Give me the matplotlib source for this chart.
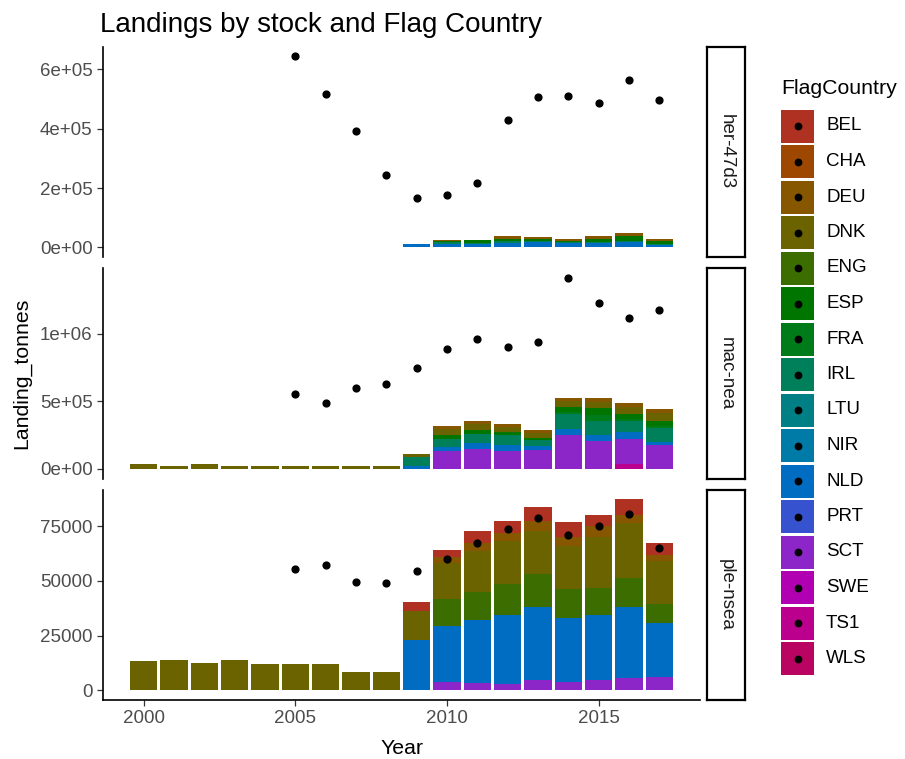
import numpy as np
import matplotlib
matplotlib.use('Agg')
import matplotlib.pyplot as plt
import matplotlib.ticker as mticker
from matplotlib.patches import Rectangle

plt.rcParams['font.family'] = ['Liberation Sans', 'DejaVu Sans']

# ── Data (tonnes) ───────────────────────────────────────────────────

COUNTRIES = ['BEL', 'CHA', 'DEU', 'DNK', 'ENG', 'ESP', 'FRA', 'IRL',
             'LTU', 'NIR', 'NLD', 'PRT', 'SCT', 'SWE', 'TS1', 'WLS']

YEARS = np.arange(2000, 2018)
POINT_YEARS = np.arange(2005, 2018)

# her-47d3: landings only from 2009
HER = {
    'DEU': [0]*9 + [0, 2000, 2500, 8000, 7000, 6500, 9000, 11000, 6000],
    'ESP': [0]*9 + [0, 5000, 8500, 10000, 7000, 3500, 12000, 15000, 10000],
    'IRL': [0]*9 + [0, 7000, 5000, 5000, 3000, 3000, 3500, 5000, 3500],
    'NLD': [0]*9 + [10000, 10000, 10000, 15000, 17000, 15000, 13500, 17000, 8500],
}
HER_POINTS = [645000, 516000, 391000, 243000, 167000, 177000, 218000,
              428000, 506000, 509000, 486000, 563000, 496000]

MAC = {
    'DEU': [0]*10 + [22000, 22000, 22000, 19000, 26000, 30000, 30000, 32000],
    'DNK': [35000, 20000, 33000, 22000, 21000, 21000, 21000, 20000, 21000,
            25000, 45000, 40000, 38000, 36000, 44000, 45000, 52000, 55000],
    'ESP': [0]*10 + [30000, 32000, 25000, 15000, 35000, 50000, 40000, 40000],
    'FRA': [0]*10 + [0, 0, 0, 0, 15000, 50000, 15000, 15000],
    'IRL': [0]*9 + [62000, 57000, 67000, 69000, 48000, 110000, 104000, 80000, 107000],
    'NLD': [0]*9 + [25000, 32000, 42000, 45000, 25000, 50000, 45000, 50000, 17000],
    'SCT': [0]*10 + [134000, 149000, 134000, 142000, 249000, 204000, 189000, 179000],
    'TS1': [0]*10 + [0, 0, 0, 0, 0, 0, 35000, 0],
}
MAC_POINTS = [552000, 485000, 597000, 630000, 746000, 888000, 963000,
              903000, 940000, 1418000, 1231000, 1119000, 1179000]

PLE = {
    'BEL': [0]*9 + [3800, 3350, 5030, 5330, 6400, 6550, 5030, 7160, 5180],
    'DEU': [0]*9 + [0, 2300, 3800, 3800, 4870, 4110, 5030, 3960, 2740],
    'DNK': [13500, 14100, 12700, 14100, 12000, 12000, 12000, 8450, 8450,
            13250, 16750, 18740, 19500, 19500, 19500, 23150, 24990, 19800],
    'ENG': [0]*9 + [0, 12200, 12950, 14320, 14930, 13250, 12490, 13100, 8380],
    'NLD': [0]*9 + [23100, 25450, 28480, 31680, 33500, 29250, 29860, 32600, 24680],
    'SCT': [0]*9 + [0, 3950, 3500, 2740, 4570, 3960, 4570, 5480, 6250],
}
PLE_POINTS = [55400, 57350, 49600, 48800, 54600, 60100, 67300,
              73500, 78500, 70750, 75000, 80660, 65000]

STOCKS = [('her-47d3', HER, HER_POINTS, 2e5, '{:.0e}'),
          ('mac-nea', MAC, MAC_POINTS, 5e5, '{:.0e}'),
          ('ple-nsea', PLE, PLE_POINTS, 25000, '{:.0f}')]


# ── ggplot-like hue palette (hcl, l=40) ─────────────────────────────

def hue_pal(n, c=100, l=40):
    cols = []
    Y = ((l + 16) / 116) ** 3
    un, vn = 0.1978398, 0.4683363
    for h in np.linspace(15, 375, n + 1)[:n]:
        u = c * np.cos(np.radians(h))
        v = c * np.sin(np.radians(h))
        up = u / (13 * l) + un
        vp = v / (13 * l) + vn
        X = Y * 9 * up / (4 * vp)
        Z = Y * (12 - 3 * up - 20 * vp) / (4 * vp)
        rgb = np.array([3.2406 * X - 1.5372 * Y - 0.4986 * Z,
                        -0.9689 * X + 1.8758 * Y + 0.0415 * Z,
                        0.0557 * X - 0.2040 * Y + 1.0570 * Z])
        rgb = np.clip(rgb, 0, 1)
        rgb = np.where(rgb <= 0.0031308, 12.92 * rgb,
                       1.055 * rgb ** (1 / 2.4) - 0.055)
        cols.append(tuple(np.clip(rgb, 0, 1)))
    return cols

PALETTE = dict(zip(COUNTRIES, hue_pal(len(COUNTRIES))))


# ── Figure layout (pixel positions) ─────────────────────────────────

W, H = 905, 759
fig = plt.figure(figsize=(W / 100, H / 100), dpi=100)

def px_axes(x0, y0, x1, y1):
    return fig.add_axes([x0 / W, 1 - y1 / H, (x1 - x0) / W, (y1 - y0) / H])

PANEL_Y = [(46.5, 257), (268, 478.5), (489.5, 700)]
TICK_COL = '#4D4D4D'

for i, (name, bars, points, step, fmt) in enumerate(STOCKS):
    y0, y1 = PANEL_Y[i]
    ax = px_axes(103, y0, 700, y1)

    bottom = np.zeros(len(YEARS))
    for c in COUNTRIES[::-1]:
        if c in bars:
            vals = np.array(bars[c], dtype=float)
            ax.bar(YEARS, vals, width=0.9, bottom=bottom, color=PALETTE[c],
                   linewidth=0, zorder=2)
            bottom += vals
    ax.plot(POINT_YEARS, points, 'o', color='black', ms=4.9, zorder=3)

    hi = max(bottom.max(), max(points))
    ax.set_ylim(-0.05 * hi, 1.05 * hi)
    ax.set_xlim(1999.55 - 0.895, 2017.45 + 0.895)

    ax.yaxis.set_major_locator(mticker.MultipleLocator(step))
    ax.yaxis.set_major_formatter(mticker.FuncFormatter(lambda v, p, f=fmt: f.format(v)))
    ax.tick_params(axis='y', length=4.2, width=0.9, color='#333333',
                   labelcolor=TICK_COL, labelsize=13.5, pad=3.3)
    for s in ['top', 'right']:
        ax.spines[s].set_visible(False)
    ax.spines['left'].set_linewidth(1.2)
    if i < 2:
        ax.spines['bottom'].set_visible(False)
        ax.set_xticks([])
    else:
        ax.spines['bottom'].set_linewidth(1.2)
        ax.set_xticks([2000, 2005, 2010, 2015])
        ax.tick_params(axis='x', length=4.2, width=0.9, color='#333333',
                       labelcolor=TICK_COL, labelsize=13.5, pad=3.3)

    # facet strip
    sax = px_axes(707, y0, 745, y1)
    sax.set_xticks([])
    sax.set_yticks([])
    for s in sax.spines.values():
        s.set_linewidth(1.6)
        s.set_color('black')
    sax.text(0.5, 0.5, name, rotation=270, ha='center', va='center',
             fontsize=13.5, color='#1A1A1A', transform=sax.transAxes)

# titles
fig.text(100 / W, 1 - 32 / H, 'Landings by stock and Flag Country',
         fontsize=20, va='baseline', ha='left')
fig.text(22 / W, 1 - 373 / H, 'Landing_tonnes', rotation=90,
         fontsize=15.3, ha='center', va='center')
fig.text(401.5 / W, 1 - 754 / H, 'Year', fontsize=15.3,
         ha='center', va='baseline')

# legend
lax = fig.add_axes([0, 0, 1, 1])
lax.set_xlim(0, W)
lax.set_ylim(H, 0)
lax.axis('off')
lax.text(781, 88, 'FlagCountry', fontsize=15.3, va='center', ha='left')
for k, c in enumerate(COUNTRIES):
    yc = 126 + 35.5 * k
    lax.add_patch(Rectangle((781, yc - 16.5), 33, 33, facecolor=PALETTE[c],
                            edgecolor='none'))
    lax.plot(797.5, yc, 'o', color='black', ms=4.6)
    lax.text(826, yc, c, fontsize=13.5, va='center', ha='left')

fig.savefig('out.png', dpi=100)
